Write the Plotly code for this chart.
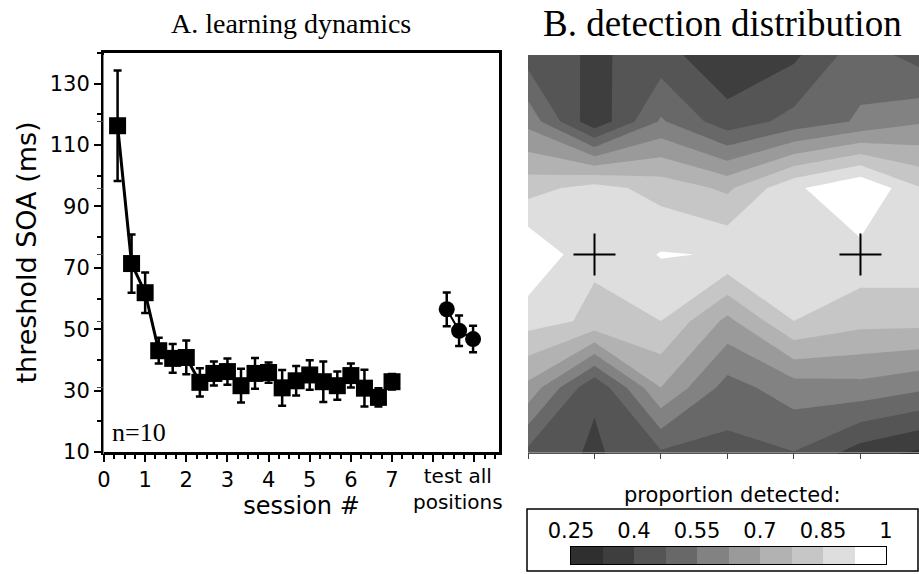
import plotly.graph_objects as go

# ---------------- data: panel A ----------------
session_x = [0.33, 0.67, 1.0, 1.33, 1.67, 2.0, 2.33, 2.67, 3.0, 3.33, 3.67,
             4.0, 4.33, 4.67, 5.0, 5.33, 5.67, 6.0, 6.33, 6.67, 7.0]
session_soa = [116.3, 71.4, 61.9, 43.0, 40.5, 40.8, 32.7, 35.6, 36.2, 31.6, 35.6,
               35.9, 30.9, 33.2, 35.1, 32.9, 31.6, 34.9, 30.8, 27.8, 32.9]
session_err = [18.0, 9.5, 6.6, 4.2, 4.7, 5.5, 4.6, 3.9, 4.3, 5.5, 5.0,
               3.3, 5.8, 4.8, 4.8, 6.6, 4.6, 3.9, 6.0, 3.0, 2.5]

test_x = [8.33, 8.63, 8.97]
test_soa = [56.5, 49.5, 46.8]
test_err = [5.5, 5.0, 4.3]

x_tickvals = [0, 1, 2, 3, 4, 5, 6, 7, 8, 9]
x_ticktext = ["0", "1", "2", "3", "4", "5", "6", "7", "", ""]
y_tickvals = [10, 30, 50, 70, 90, 110, 130]

# ---------------- data: panel B ----------------
grid_x = [0, 1, 2, 3, 4, 5, 6]
grid_y = [0, 1, 2, 3, 4, 5, 6]
detected = [
    [0.44, 0.389, 0.43, 0.34, 0.385, 0.52, 0.43],
    [0.60, 0.344, 0.56, 0.43, 0.50, 0.56, 0.62],
    [0.82, 0.88, 0.82, 0.76, 0.91, 1.00, 0.84],
    [1.00, 0.86, 0.93, 0.92, 0.90, 0.90, 0.90],
    [0.88, 0.836, 0.85, 0.68, 0.85, 0.80, 0.80],
    [0.68, 0.41, 0.70, 0.52, 0.59, 0.60, 0.56],
    [0.45, 0.388, 0.46, 0.45, 0.47, 0.36, 0.30],
]
fixation_x = [1, 5]
fixation_y = [3, 3]

levels = [0.25, 0.325, 0.4, 0.475, 0.55, 0.625, 0.7, 0.775, 0.85, 0.925, 1.0]
band_index = [1, 2, 3, 4, 5, 6, 7, 8, 9, 10]
band_colors = ["#2f2f2f", "#3e3e3e", "#555555", "#686868", "#828282",
               "#9a9a9a", "#b2b2b2", "#c6c6c6", "#dedede", "#ffffff"]
legend_tickvals = [0.25, 0.4, 0.55, 0.7, 0.85, 1.0]
legend_ticktext = ["0.25", "0.4", "0.55", "0.7", "0.85", "1"]

W, H = 919, 574
def px(x):
    return x / W
def py(y):
    return 1 - y / H

fig = go.Figure()

# panel A traces
fig.add_trace(go.Scatter(
    x=session_x, y=session_soa, mode="lines+markers",
    line=dict(color="black", width=3),
    marker=dict(symbol="square", size=17, color="black"),
    error_y=dict(type="data", array=session_err, color="black", thickness=2.5, width=4),
    xaxis="x", yaxis="y"))
fig.add_trace(go.Scatter(
    x=test_x, y=test_soa, mode="lines+markers",
    line=dict(color="black", width=2),
    marker=dict(symbol="circle", size=16, color="black"),
    error_y=dict(type="data", array=test_err, color="black", thickness=2.5, width=4),
    xaxis="x", yaxis="y"))

# panel B contour
cscale = [[0.0, band_colors[0]]]
for i, c in enumerate(band_colors):
    cscale.append([(i + 1) / len(band_colors), c])
fig.add_trace(go.Contour(
    x=grid_x, y=grid_y, z=detected,
    colorscale=cscale, showscale=False,
    contours=dict(start=levels[0], end=levels[-2], size=levels[1] - levels[0],
                  coloring="fill", showlines=False),
    line=dict(width=0, smoothing=0),
    xaxis="x2", yaxis="y2"))
fig.add_trace(go.Scatter(
    x=fixation_x, y=fixation_y, mode="markers",
    marker=dict(symbol="cross-thin", size=30, line=dict(color="black", width=2)),
    xaxis="x2", yaxis="y2"))

# legend colour bar
n = len(band_colors)
leg_scale = [[i / (n - 1), c] for i, c in enumerate(band_colors)]
fig.add_trace(go.Heatmap(
    x=levels, y=[0, 1], z=[band_index],
    zmin=band_index[0], zmax=band_index[-1],
    colorscale=leg_scale, showscale=False,
    xaxis="x3", yaxis="y3"))

tick_font = dict(family="DejaVu Sans", size=21, color="black")

fig.update_layout(
    width=W, height=H,
    margin=dict(l=0, r=0, t=0, b=0, autoexpand=False),
    paper_bgcolor="white", plot_bgcolor="white",
    showlegend=False,
    font=dict(family="DejaVu Sans", color="black"),
    xaxis=dict(domain=[px(104), px(499)], range=[0, 9.6], automargin=False,
               tickvals=x_tickvals, ticktext=x_ticktext,
               ticks="outside", ticklen=7, tickwidth=2, tickcolor="black",
               minor=dict(dtick=0.25, tick0=0, ticks="outside", ticklen=4,
                          tickwidth=2, tickcolor="black"),
               showline=True, linewidth=3, linecolor="black", mirror=True,
               showgrid=False, zeroline=False, tickfont=tick_font,
               title=dict(text="session #",
                          font=dict(family="DejaVu Sans", size=24, color="black"),
                          standoff=0)),
    yaxis=dict(domain=[py(452), py(53)], range=[10, 140], automargin=False,
               tickvals=y_tickvals,
               ticks="outside", ticklen=7, tickwidth=2, tickcolor="black",
               minor=dict(dtick=10, tick0=0, ticks="outside", ticklen=4,
                          tickwidth=2, tickcolor="black"),
               showline=True, linewidth=3, linecolor="black", mirror=True,
               showgrid=False, zeroline=False, tickfont=tick_font,
               title=dict(text="threshold SOA (ms)",
                          font=dict(family="DejaVu Sans", size=27, color="black"),
                          standoff=6)),
    xaxis2=dict(domain=[px(528), 1.0], range=[0, 5.88], automargin=False,
                tickvals=[0, 1, 2, 3, 4, 5], showticklabels=False,
                ticks="outside", ticklen=6, tickwidth=1, tickcolor="#444",
                showline=True, linewidth=1, linecolor="#888",
                showgrid=False, zeroline=False),
    yaxis2=dict(domain=[py(454), py(55)], range=[6, 0], automargin=False,
                tickvals=[1, 2, 3, 4, 5], showticklabels=False,
                ticks="outside", ticklen=6, tickwidth=1, tickcolor="#444",
                showline=True, linewidth=1, linecolor="#888",
                showgrid=False, zeroline=False),
    xaxis3=dict(domain=[px(571), px(886)], range=[0.25, 1.0], side="top",
                anchor="y3", automargin=False,
                tickvals=legend_tickvals, ticktext=legend_ticktext,
                ticks="", tickfont=tick_font,
                showline=True, linewidth=1, linecolor="black", mirror=True,
                showgrid=False, zeroline=False),
    yaxis3=dict(domain=[py(564), py(547)], range=[0, 1], anchor="x3",
                automargin=False,
                showticklabels=False, ticks="",
                showline=True, linewidth=1, linecolor="black", mirror=True,
                showgrid=False, zeroline=False),
)

fig.add_shape(type="rect", xref="paper", yref="paper",
              x0=px(527), x1=px(918), y0=py(571), y1=py(509),
              line=dict(color="black", width=1.5))

fig.add_annotation(text="proportion detected:", xref="paper", yref="paper",
                   x=px(732), y=py(495), showarrow=False,
                   xanchor="center", yanchor="middle",
                   font=dict(family="DejaVu Sans", size=21, color="black"))
fig.add_annotation(text="A. learning dynamics", xref="paper", yref="paper",
                   x=px(291), y=py(23), showarrow=False,
                   xanchor="center", yanchor="middle",
                   font=dict(family="Liberation Serif", size=28, color="black"))
fig.add_annotation(text="B. detection distribution", xref="paper", yref="paper",
                   x=px(722), y=py(23), showarrow=False,
                   xanchor="center", yanchor="middle",
                   font=dict(family="Liberation Serif", size=37, color="black"))
fig.add_annotation(text="n=10", xref="x", yref="y", x=0.15, y=16.5,
                   xanchor="left", yanchor="middle", showarrow=False,
                   font=dict(family="Liberation Serif", size=26, color="black"))
fig.add_annotation(text="test all<br>positions", xref="x", yref="paper",
                   x=8.6, y=py(489), showarrow=False,
                   xanchor="center", yanchor="middle",
                   font=dict(family="DejaVu Sans", size=20, color="black"))

fig.write_html("out.html")
